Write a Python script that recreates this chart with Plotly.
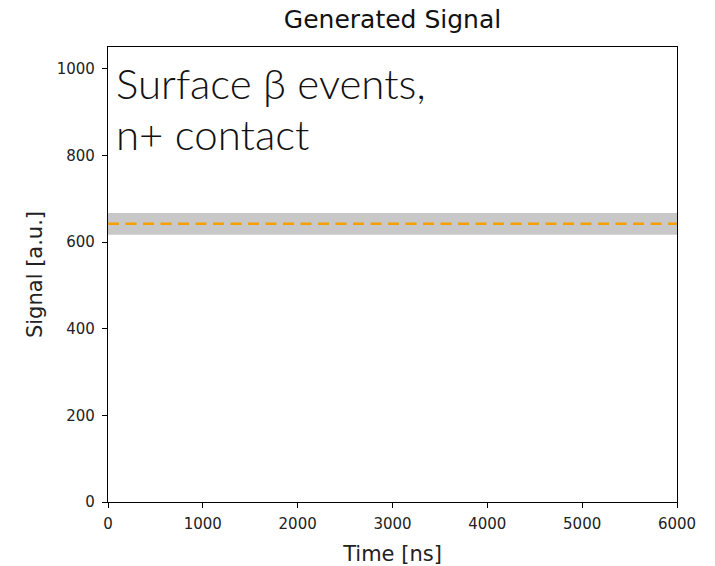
import plotly.graph_objects as go

# Time axis samples [ns] and the generated signal level with its uncertainty band
time_ns = [0, 6000]
signal_level = [642, 642]
band_low = [617, 617]
band_high = [667, 667]

x_ticks = [0, 1000, 2000, 3000, 4000, 5000, 6000]
y_ticks = [0, 200, 400, 600, 800, 1000]

label_lines = ["Surface β events,", "n+ contact"]

fig = go.Figure()

# grey uncertainty band
fig.add_trace(go.Scatter(
    x=time_ns + time_ns[::-1],
    y=band_high + band_low[::-1],
    fill="toself",
    fillcolor="rgb(200,200,200)",
    line=dict(width=0),
    mode="lines",
    hoverinfo="skip",
    showlegend=False,
))

# dashed mean signal
fig.add_trace(go.Scatter(
    x=time_ns,
    y=signal_level,
    mode="lines",
    line=dict(color="rgb(245,160,0)", width=2.5, dash="11px,6.5px"),
    showlegend=False,
))

# two-line label in the upper left corner, one annotation per line
for i, line in enumerate(label_lines):
    fig.add_annotation(
        text=line,
        xref="paper", yref="paper",
        x=0, y=1,
        xanchor="left", yanchor="top",
        xshift=6, yshift=-9 - 51 * i,
        align="left",
        showarrow=False,
        font=dict(family="Lato", size=42, color="#111111", weight=300),
    )

axis_common = dict(
    showline=True,
    linecolor="black",
    linewidth=1.3,
    mirror=True,
    ticks="outside",
    ticklen=5,
    tickwidth=1.2,
    tickcolor="black",
    showgrid=False,
    zeroline=False,
    automargin=False,
    tickfont=dict(family="DejaVu Sans", size=15, color="#222222"),
)

fig.update_xaxes(
    range=[0, 6000],
    tickvals=x_ticks,
    ticklabelstandoff=3,
    title=dict(text="Time [ns]", font=dict(family="DejaVu Sans", size=21, color="#222222"), standoff=22),
    **axis_common,
)
fig.update_yaxes(
    range=[0, 1050],
    tickvals=y_ticks,
    ticklabelstandoff=4,
    title=dict(text="Signal [a.u.]", font=dict(family="DejaVu Sans", size=21, color="#222222"), standoff=8),
    **axis_common,
)

fig.update_layout(
    width=715,
    height=566,
    margin=dict(l=108, r=38, t=47, b=64),
    paper_bgcolor="white",
    plot_bgcolor="white",
    title=dict(
        text="Generated Signal",
        x=0.5, xref="paper",
        y=1 - 19 / 566, yanchor="middle",
        font=dict(family="DejaVu Sans", size=25, color="#111111"),
    ),
)

fig.write_html("out.html")
